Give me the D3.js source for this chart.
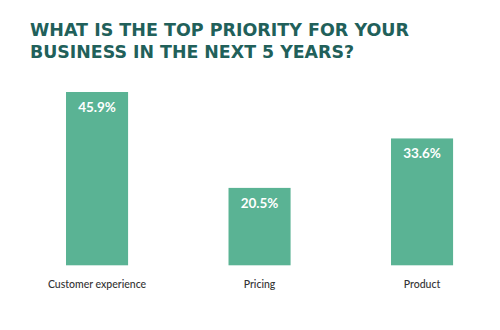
<!DOCTYPE html>
<html>
<head>
<meta charset="utf-8">
<script src="https://cdn.jsdelivr.net/npm/d3@7"></script>
<style>
  html, body { margin: 0; padding: 0; background: #fff; }
  svg { display: block; }
</style>
</head>
<body>
<svg id="chart" width="500" height="330"></svg>
<script>
const titleLines = ["WHAT IS THE TOP PRIORITY FOR YOUR", "BUSINESS IN THE NEXT 5 YEARS?"];
const categories = ["Customer experience", "Pricing", "Product"];
const values = [45.9, 20.5, 33.6];
const valueLabels = ["45.9%", "20.5%", "33.6%"];

const svg = d3.select("#chart");

// Title
const titleWidths = [379, 324];
svg.append("g").selectAll("text")
  .data(titleLines)
  .join("text")
  .attr("x", 30)
  .attr("y", (d, i) => 35.7 + i * 22.6)
  .attr("textLength", (d, i) => titleWidths[i])
  .attr("lengthAdjust", "spacingAndGlyphs")
  .style("font-family", "'DejaVu Sans', sans-serif")
  .style("font-weight", 700)
  .style("font-size", "16.8px")
  .style("fill", "#21605a")
  .text(d => d);

// Scales
const x = d3.scaleBand()
  .domain(categories)
  .range([15.8, 503.3])
  .paddingInner(0.618)
  .paddingOuter(0.309);

const y = d3.scaleLinear()
  .domain([0, 45.9])
  .range([265.3, 92]);

const data = categories.map((c, i) => ({ c, v: values[i], label: valueLabels[i] }));

svg.append("g").selectAll("rect")
  .data(data)
  .join("rect")
  .attr("x", d => x(d.c))
  .attr("width", x.bandwidth())
  .attr("y", d => y(d.v))
  .attr("height", d => y(0) - y(d.v))
  .attr("fill", "#5ab394");

svg.append("g").selectAll("text")
  .data(data)
  .join("text")
  .attr("x", d => x(d.c) + x.bandwidth() / 2)
  .attr("y", d => y(d.v) + 20)
  .attr("text-anchor", "middle")
  .style("font-family", "Lato, sans-serif")
  .style("font-weight", 700)
  .style("font-size", "13.5px")
  .style("fill", "#ffffff")
  .text(d => d.label);

// Category axis labels
const xAxis = d3.axisBottom(x).tickSize(0).tickPadding(0);
const gx = svg.append("g")
  .attr("transform", `translate(0, ${288.3})`)
  .call(xAxis);
gx.select(".domain").remove();
gx.selectAll(".tick text")
  .attr("dy", 0)
  .attr("y", 0)
  .style("font-family", "Lato, sans-serif")
  .style("font-weight", 500)
  .style("font-size", "10.5px")
  .style("fill", "#333333");
</script>
</body>
</html>
